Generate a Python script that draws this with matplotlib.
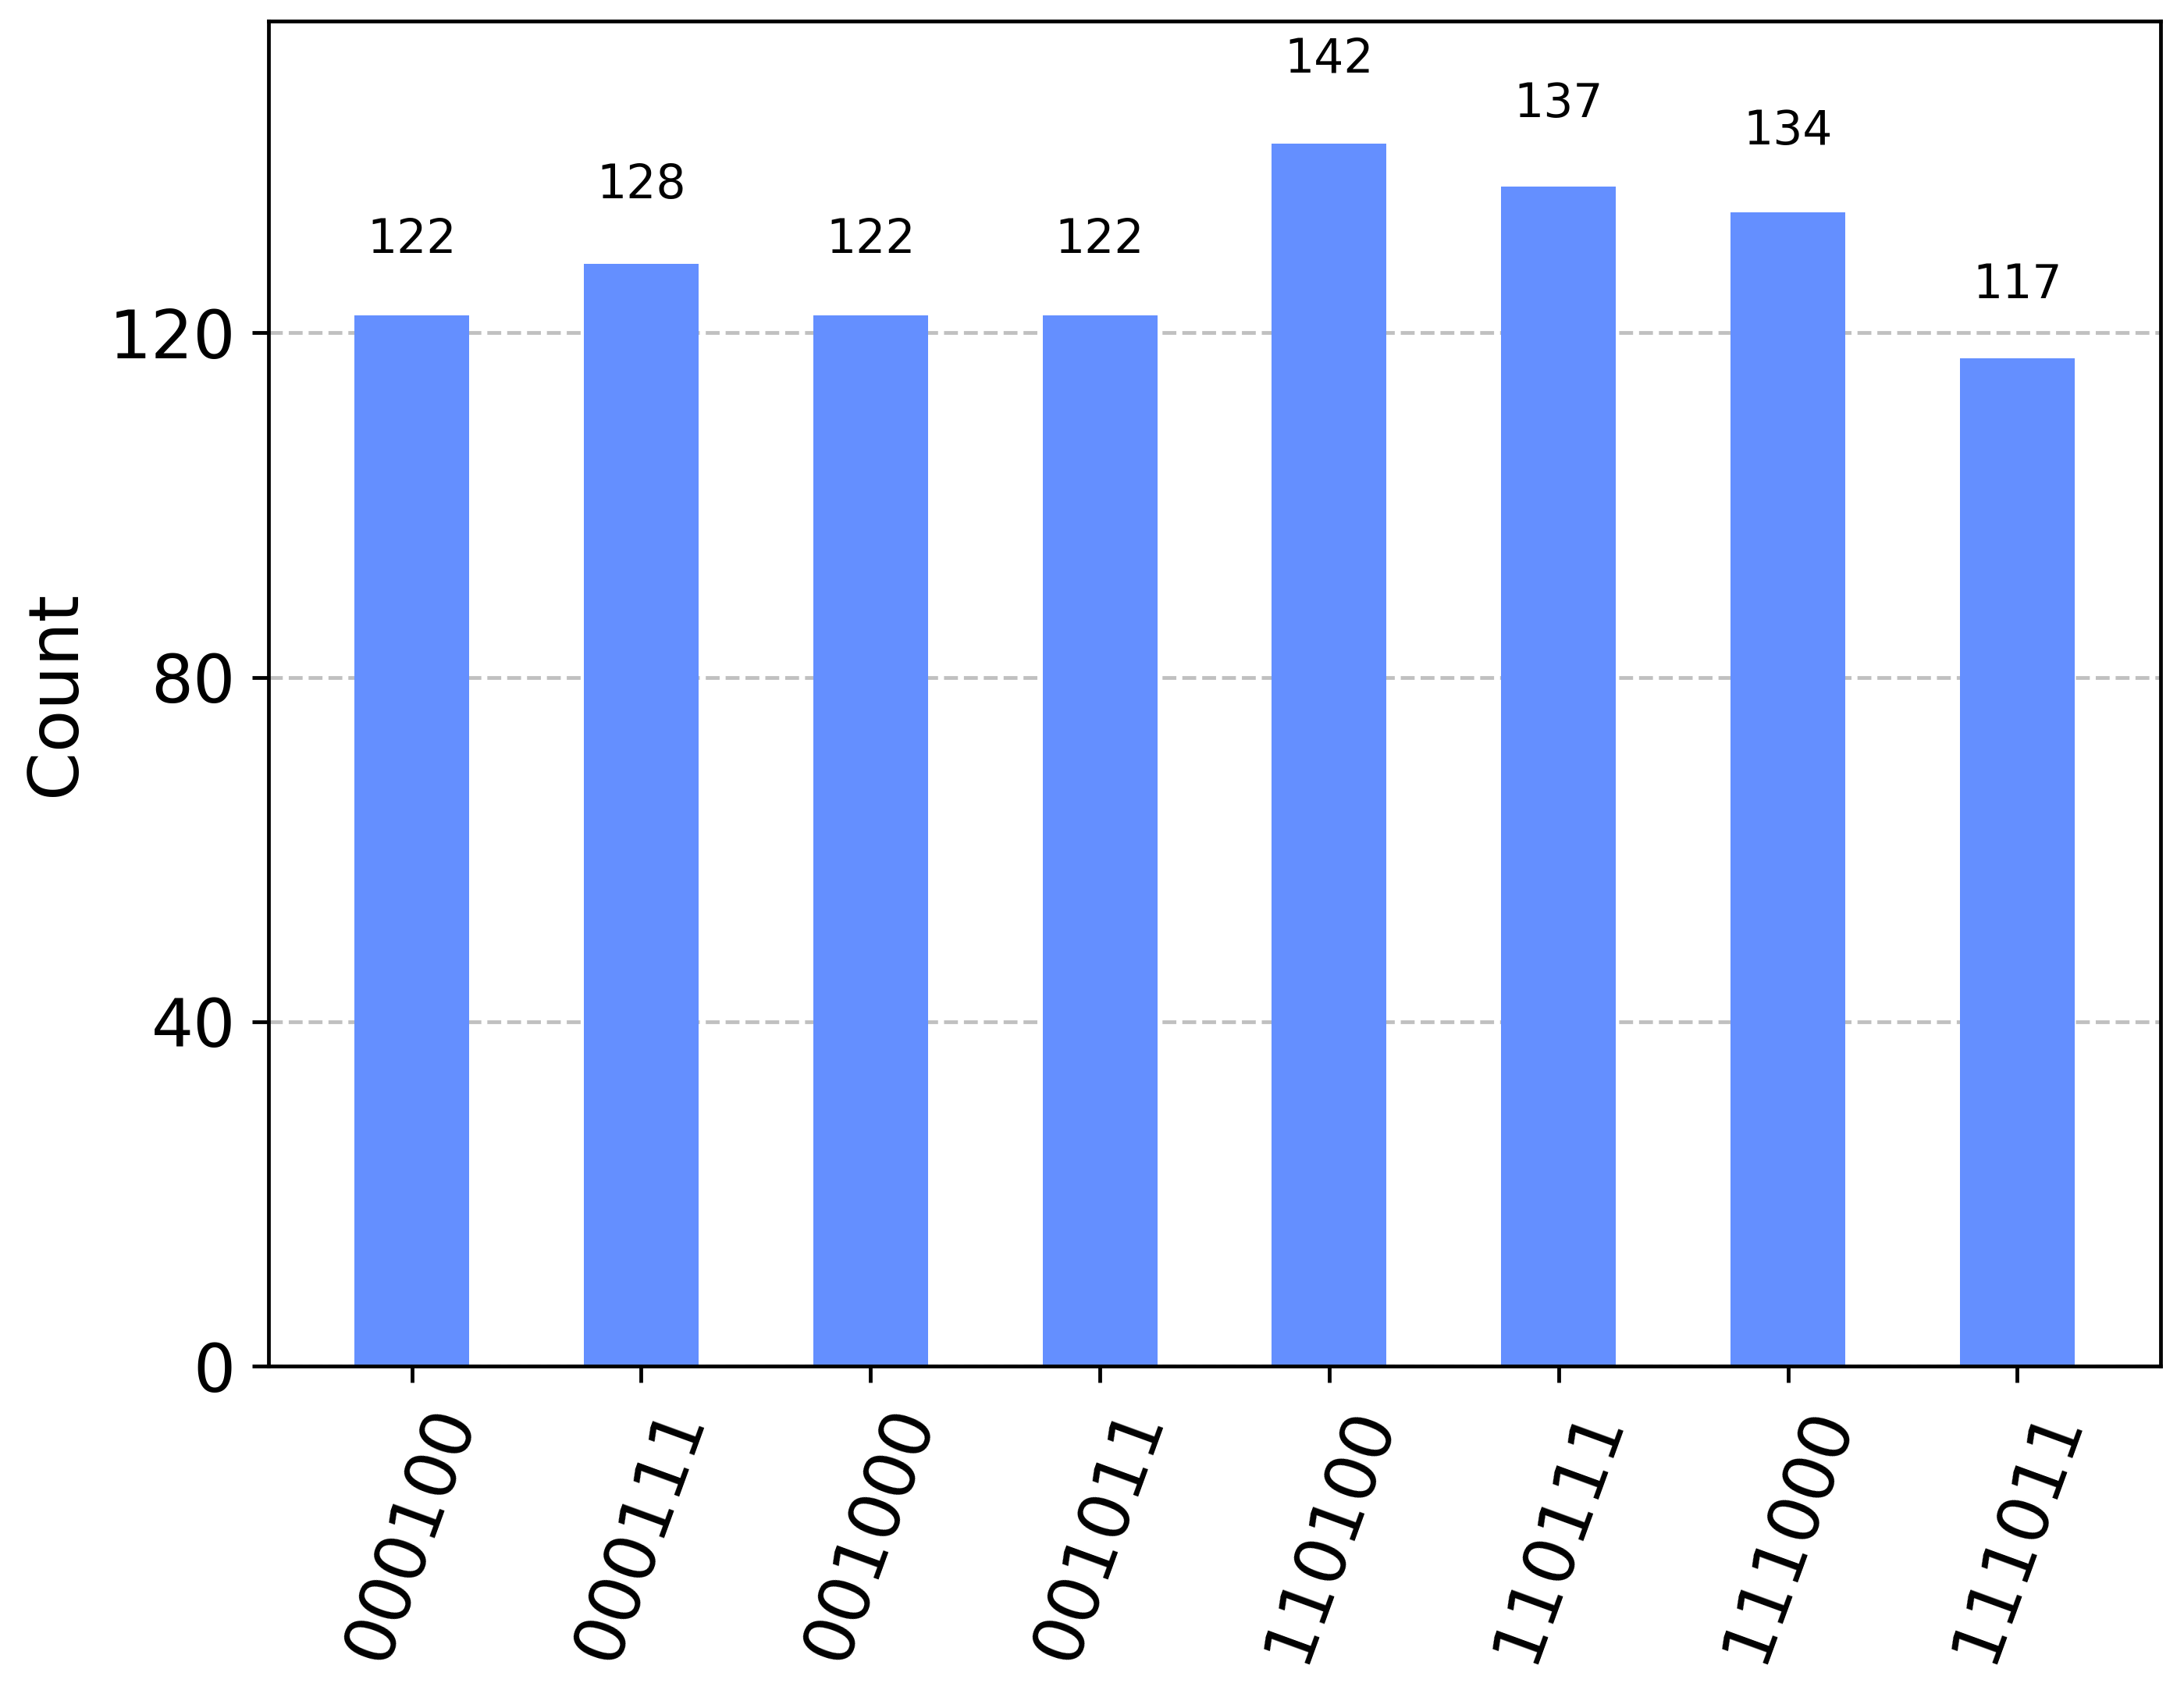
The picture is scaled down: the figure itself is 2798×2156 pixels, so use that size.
import numpy as np
import matplotlib
matplotlib.use("Agg")
import matplotlib.pyplot as plt

# --- Data ---
states = ["000100", "000111", "001000", "001011", "110100", "110111", "111000", "111011"]
counts = [122, 128, 122, 122, 142, 137, 134, 117]
y_ticks = [0, 40, 80, 120]

BAR_COLOR = "#648fff"
DPI = 432

fig = plt.figure(figsize=(2798 / DPI, 2156 / DPI), dpi=DPI)
ax = fig.add_axes([0.1229, 0.1883, 0.8664, 0.7992])

x = np.arange(len(states))
rects = ax.bar(x, counts, width=0.5, color=BAR_COLOR, zorder=2)

# value labels above each bar, same placement as qiskit's plot_histogram
for rect, c in zip(rects, counts):
    h = rect.get_height()
    ax.text(rect.get_x() + rect.get_width() / 2.0, 1.05 * h, str(c),
            ha="center", va="bottom", zorder=3, fontsize=10)

ax.set_xticks(x)
ax.set_xticklabels(states, fontsize=14.8, rotation=70)
ax.set_ylim(0, 1.1 * max(counts))
ax.set_yticks(y_ticks)
ax.tick_params(axis="y", labelsize=14.2)
ax.set_ylabel("Count", fontsize=14.8)
ax.grid(which="major", axis="y", zorder=0, linestyle="--", color="#c0c0c0")
ax.set_axisbelow(True)

fig.savefig("out.png", dpi=DPI)
